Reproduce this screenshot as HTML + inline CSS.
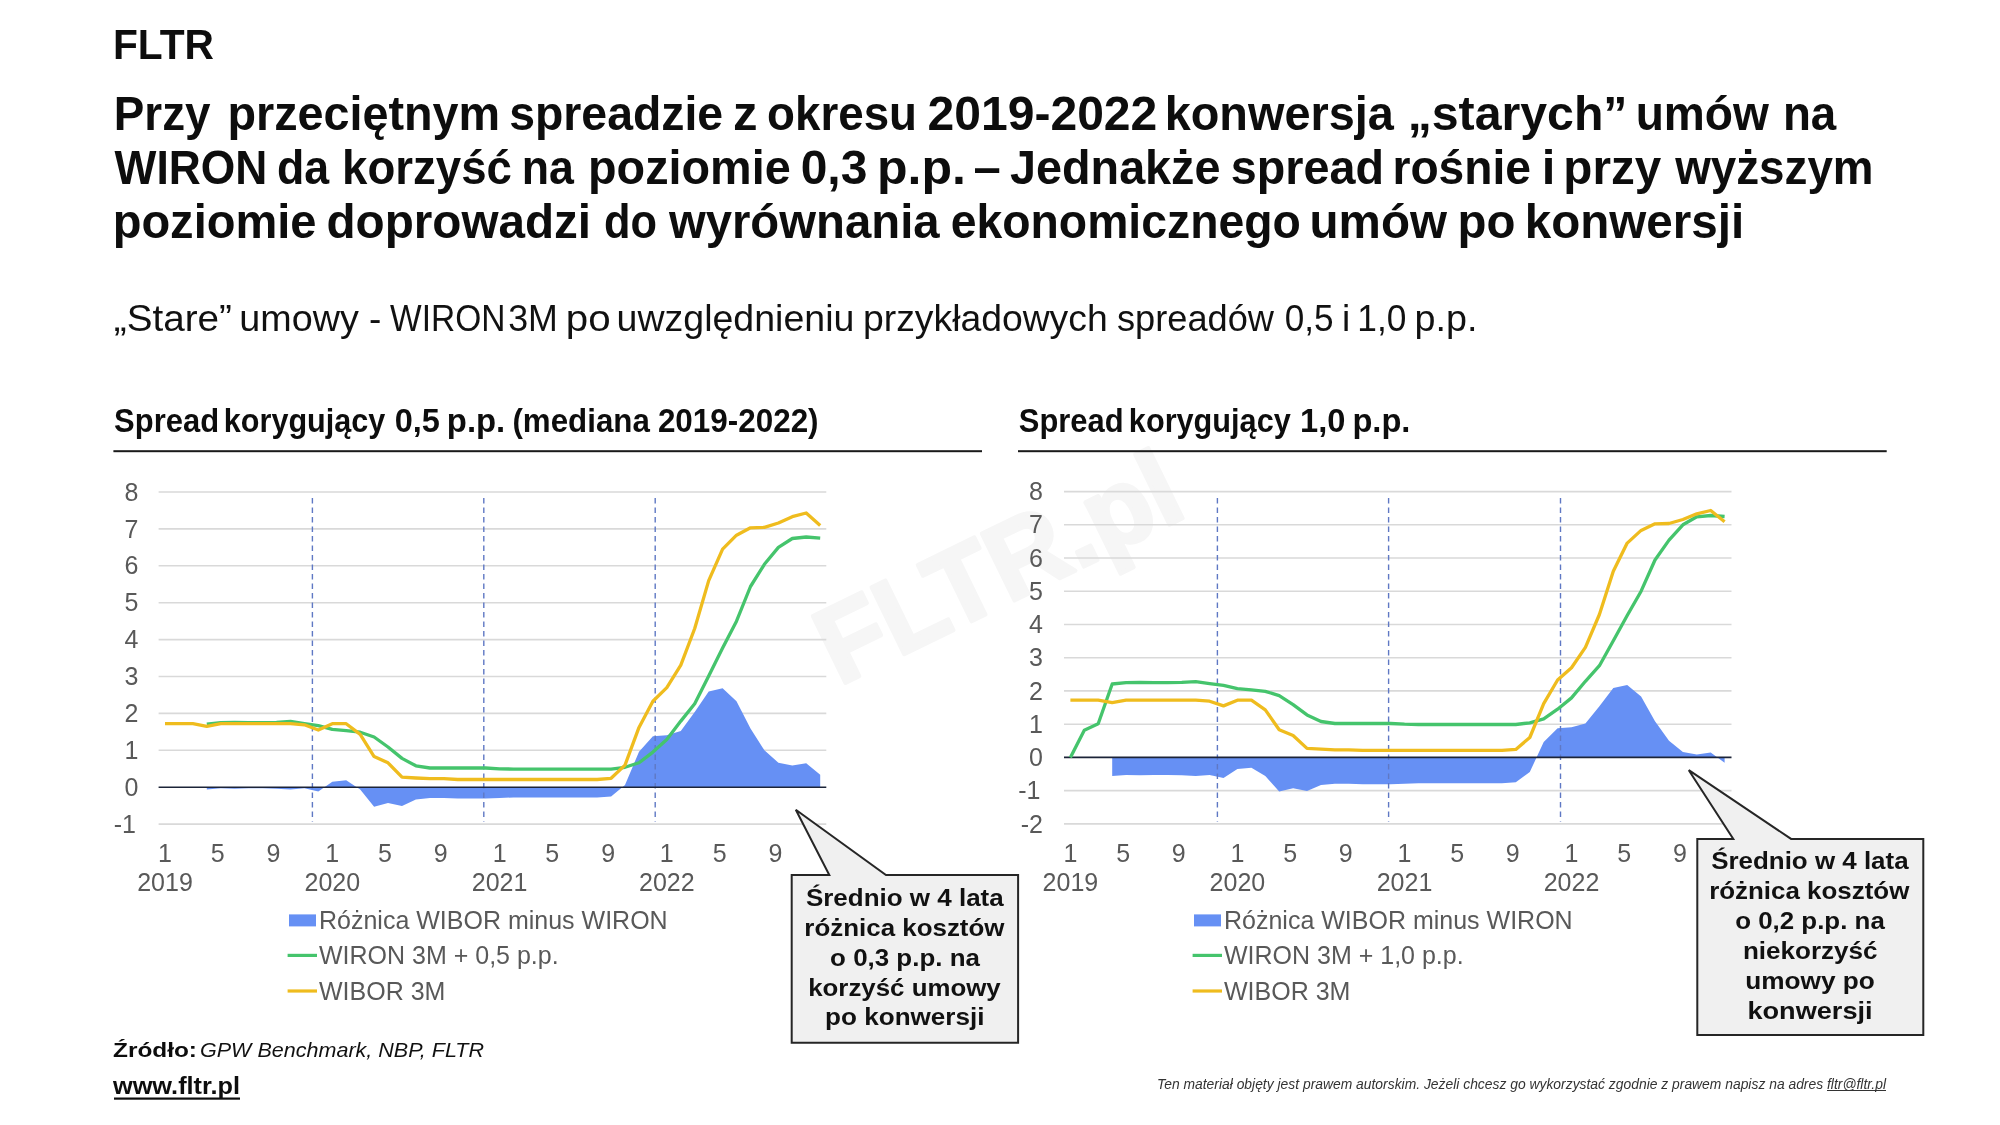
<!DOCTYPE html>
<html><head><meta charset="utf-8">
<style>
html,body{margin:0;padding:0;background:#fff;width:2000px;height:1125px;overflow:hidden}
svg{display:block;will-change:transform}
text{font-family:"Liberation Sans",sans-serif}
.ax{font-size:25px;fill:#595959}
.co{font-size:24.5px;font-weight:bold;fill:#111}
.b{font-weight:bold;fill:#0d0d0d}
.sub{fill:#111}
</style></head><body>
<svg width="2000" height="1125" viewBox="0 0 2000 1125">
<rect width="2000" height="1125" fill="#fff"/>
<text x="839" y="686" transform="rotate(-26 839 686)" font-size="108" font-weight="bold" fill="#f6f6f6" stroke="#f6f6f6" stroke-width="4" stroke-linejoin="round" textLength="390" lengthAdjust="spacingAndGlyphs">FLTR.pl</text>
<text id="t0" class="b" x="113" y="58.9" font-size="42" textLength="101" lengthAdjust="spacingAndGlyphs">FLTR</text>
<text class="b" x="113.84" y="130.2" font-size="49" textLength="96.71" lengthAdjust="spacingAndGlyphs">Przy</text>
<text class="b" x="227.42" y="130.2" font-size="49" textLength="272.68" lengthAdjust="spacingAndGlyphs">przeciętnym</text>
<text class="b" x="509.17" y="130.2" font-size="49" textLength="214.02" lengthAdjust="spacingAndGlyphs">spreadzie</text>
<text class="b" x="732.90" y="130.2" font-size="49">z</text>
<text class="b" x="767.11" y="130.2" font-size="49" textLength="149.90" lengthAdjust="spacingAndGlyphs">okresu</text>
<text class="b" x="927.58" y="130.2" font-size="49" textLength="229.74" lengthAdjust="spacingAndGlyphs">2019-2022</text>
<text class="b" x="1164.73" y="130.2" font-size="49" textLength="229.07" lengthAdjust="spacingAndGlyphs">konwersja</text>
<text class="b" x="1407.69" y="130.2" font-size="49" textLength="219.78" lengthAdjust="spacingAndGlyphs">„starych”</text>
<text class="b" x="1635.64" y="130.2" font-size="49" textLength="133.27" lengthAdjust="spacingAndGlyphs">umów</text>
<text class="b" x="1782.89" y="130.2" font-size="49" textLength="53.32" lengthAdjust="spacingAndGlyphs">na</text>
<text class="b" x="114.56" y="183.8" font-size="49" textLength="152.73" lengthAdjust="spacingAndGlyphs">WIRON</text>
<text class="b" x="277.07" y="183.8" font-size="49" textLength="52.15" lengthAdjust="spacingAndGlyphs">da</text>
<text class="b" x="342.12" y="183.8" font-size="49" textLength="169.82" lengthAdjust="spacingAndGlyphs">korzyść</text>
<text class="b" x="521.80" y="183.8" font-size="49" textLength="52.16" lengthAdjust="spacingAndGlyphs">na</text>
<text class="b" x="588.02" y="183.8" font-size="49" textLength="202.68" lengthAdjust="spacingAndGlyphs">poziomie</text>
<text class="b" x="800.70" y="183.8" font-size="49" textLength="66.63" lengthAdjust="spacingAndGlyphs">0,3</text>
<text class="b" x="876.95" y="183.8" font-size="49" textLength="88.89" lengthAdjust="spacingAndGlyphs">p.p.</text>
<text class="b" x="973.51" y="183.8" font-size="49">–</text>
<text class="b" x="1010.04" y="183.8" font-size="49" textLength="210.46" lengthAdjust="spacingAndGlyphs">Jednakże</text>
<text class="b" x="1230.76" y="183.8" font-size="49" textLength="153.22" lengthAdjust="spacingAndGlyphs">spread</text>
<text class="b" x="1392.46" y="183.8" font-size="49" textLength="138.52" lengthAdjust="spacingAndGlyphs">rośnie</text>
<text class="b" x="1541.72" y="183.8" font-size="49">i</text>
<text class="b" x="1563.36" y="183.8" font-size="49" textLength="97.89" lengthAdjust="spacingAndGlyphs">przy</text>
<text class="b" x="1675.13" y="183.8" font-size="49" textLength="198.45" lengthAdjust="spacingAndGlyphs">wyższym</text>
<text class="b" x="112.65" y="237.8" font-size="49" textLength="203.86" lengthAdjust="spacingAndGlyphs">poziomie</text>
<text class="b" x="326.45" y="237.8" font-size="49" textLength="264.68" lengthAdjust="spacingAndGlyphs">doprowadzi</text>
<text class="b" x="603.97" y="237.8" font-size="49" textLength="52.97" lengthAdjust="spacingAndGlyphs">do</text>
<text class="b" x="668.89" y="237.8" font-size="49" textLength="270.71" lengthAdjust="spacingAndGlyphs">wyrównania</text>
<text class="b" x="950.69" y="237.8" font-size="49" textLength="350.12" lengthAdjust="spacingAndGlyphs">ekonomicznego</text>
<text class="b" x="1309.55" y="237.8" font-size="49" textLength="137.46" lengthAdjust="spacingAndGlyphs">umów</text>
<text class="b" x="1457.48" y="237.8" font-size="49" textLength="57.87" lengthAdjust="spacingAndGlyphs">po</text>
<text class="b" x="1524.78" y="237.8" font-size="49" textLength="219.34" lengthAdjust="spacingAndGlyphs">konwersji</text>
<text class="sub" x="113.89" y="331" font-size="37" textLength="118.03" lengthAdjust="spacingAndGlyphs">„Stare”</text>
<text class="sub" x="239.30" y="331" font-size="37" textLength="119.52" lengthAdjust="spacingAndGlyphs">umowy</text>
<text class="sub" x="368.89" y="331" font-size="37">-</text>
<text class="sub" x="390.10" y="331" font-size="37" textLength="115.38" lengthAdjust="spacingAndGlyphs">WIRON</text>
<text class="sub" x="508.14" y="331" font-size="37" textLength="49.70" lengthAdjust="spacingAndGlyphs">3M</text>
<text class="sub" x="565.80" y="331" font-size="37" textLength="44.79" lengthAdjust="spacingAndGlyphs">po</text>
<text class="sub" x="616.56" y="331" font-size="37" textLength="237.83" lengthAdjust="spacingAndGlyphs">uwzględnieniu</text>
<text class="sub" x="863.00" y="331" font-size="37" textLength="244.68" lengthAdjust="spacingAndGlyphs">przykładowych</text>
<text class="sub" x="1116.99" y="331" font-size="37" textLength="156.92" lengthAdjust="spacingAndGlyphs">spreadów</text>
<text class="sub" x="1284.63" y="331" font-size="37" textLength="48.85" lengthAdjust="spacingAndGlyphs">0,5</text>
<text class="sub" x="1341.90" y="331" font-size="37">i</text>
<text class="sub" x="1357.31" y="331" font-size="37" textLength="49.07" lengthAdjust="spacingAndGlyphs">1,0</text>
<text class="sub" x="1414.57" y="331" font-size="37" textLength="62.87" lengthAdjust="spacingAndGlyphs">p.p.</text>
<text class="b" x="114.11" y="432.3" font-size="32.4" textLength="104.93" lengthAdjust="spacingAndGlyphs">Spread</text>
<text class="b" x="223.87" y="432.3" font-size="32.4" textLength="161.30" lengthAdjust="spacingAndGlyphs">korygujący</text>
<text class="b" x="394.71" y="432.3" font-size="32.4" textLength="45.19" lengthAdjust="spacingAndGlyphs">0,5</text>
<text class="b" x="446.83" y="432.3" font-size="32.4" textLength="58.43" lengthAdjust="spacingAndGlyphs">p.p.</text>
<text class="b" x="512.44" y="432.3" font-size="32.4" textLength="137.36" lengthAdjust="spacingAndGlyphs">(mediana</text>
<text class="b" x="657.91" y="432.3" font-size="32.4" textLength="160.65" lengthAdjust="spacingAndGlyphs">2019-2022)</text>
<text class="b" x="1018.81" y="432.3" font-size="32.4" textLength="104.73" lengthAdjust="spacingAndGlyphs">Spread</text>
<text class="b" x="1128.86" y="432.3" font-size="32.4" textLength="161.91" lengthAdjust="spacingAndGlyphs">korygujący</text>
<text class="b" x="1300.04" y="432.3" font-size="32.4" textLength="45.40" lengthAdjust="spacingAndGlyphs">1,0</text>
<text class="b" x="1352.45" y="432.3" font-size="32.4" textLength="58.00" lengthAdjust="spacingAndGlyphs">p.p.</text>
<rect x="113.4" y="450.2" width="868.6" height="2" fill="#1a1a1a"/>
<rect x="1018" y="450.2" width="868.7" height="2" fill="#1a1a1a"/>
<line x1="158.6" y1="824.1" x2="826.3" y2="824.1" stroke="#d9d9d9" stroke-width="1.6"/>
<line x1="158.6" y1="750.3" x2="826.3" y2="750.3" stroke="#d9d9d9" stroke-width="1.6"/>
<line x1="158.6" y1="713.4" x2="826.3" y2="713.4" stroke="#d9d9d9" stroke-width="1.6"/>
<line x1="158.6" y1="676.5" x2="826.3" y2="676.5" stroke="#d9d9d9" stroke-width="1.6"/>
<line x1="158.6" y1="639.6" x2="826.3" y2="639.6" stroke="#d9d9d9" stroke-width="1.6"/>
<line x1="158.6" y1="602.7" x2="826.3" y2="602.7" stroke="#d9d9d9" stroke-width="1.6"/>
<line x1="158.6" y1="565.8" x2="826.3" y2="565.8" stroke="#d9d9d9" stroke-width="1.6"/>
<line x1="158.6" y1="528.9" x2="826.3" y2="528.9" stroke="#d9d9d9" stroke-width="1.6"/>
<line x1="158.6" y1="492.0" x2="826.3" y2="492.0" stroke="#d9d9d9" stroke-width="1.6"/>
<polygon points="206.8,787.2 206.8,789.4 220.8,788.3 234.7,788.7 248.6,788.3 262.6,788.3 276.5,788.7 290.5,789.4 304.4,788.3 318.3,791.6 332.3,781.7 346.2,780.2 360.2,789.4 374.1,806.8 388.0,803.1 402.0,806.0 415.9,799.4 429.9,797.9 443.8,797.9 457.7,798.6 471.7,798.6 485.6,798.6 499.6,797.9 513.5,797.5 527.4,797.5 541.4,797.5 555.3,797.5 569.3,797.5 583.2,797.5 597.1,797.5 611.1,796.4 625.0,785.0 639.0,751.8 652.9,736.3 666.8,735.2 680.8,731.1 694.7,711.9 708.7,691.6 722.6,688.3 736.5,701.2 750.5,728.5 764.4,750.3 778.4,762.8 792.3,765.4 806.2,763.2 820.2,774.7 820.2,787.2" fill="#6690f4"/>
<line x1="312.4" y1="498" x2="312.4" y2="821.5" stroke="#5f78c4" stroke-width="1.4" stroke-dasharray="5.6,3.9"/>
<line x1="483.8" y1="498" x2="483.8" y2="821.5" stroke="#5f78c4" stroke-width="1.4" stroke-dasharray="5.6,3.9"/>
<line x1="655.2" y1="498" x2="655.2" y2="821.5" stroke="#5f78c4" stroke-width="1.4" stroke-dasharray="5.6,3.9"/>
<line x1="158.6" y1="787.2" x2="826.3" y2="787.2" stroke="#1c2438" stroke-width="1.6"/>
<polyline points="206.8,724.1 220.8,722.6 234.7,722.3 248.6,722.6 262.6,722.6 276.5,722.3 290.5,721.5 304.4,723.7 318.3,725.6 332.3,729.3 346.2,730.7 360.2,732.2 374.1,737.0 388.0,747.0 402.0,758.4 415.9,765.8 429.9,768.0 443.8,768.0 457.7,768.0 471.7,768.0 485.6,768.0 499.6,768.8 513.5,769.1 527.4,769.1 541.4,769.1 555.3,769.1 569.3,769.1 583.2,769.1 597.1,769.1 611.1,769.1 625.0,767.3 639.0,762.8 652.9,752.1 666.8,739.6 680.8,721.1 694.7,703.8 708.7,676.1 722.6,648.1 736.5,621.2 750.5,586.5 764.4,564.3 778.4,547.4 792.3,538.5 806.2,537.0 820.2,538.1" fill="none" stroke="#45c46c" stroke-width="3.3" stroke-linejoin="round"/>
<polyline points="165.0,723.7 178.9,723.7 192.9,723.7 206.8,726.3 220.8,723.7 234.7,723.7 248.6,723.7 262.6,723.7 276.5,723.7 290.5,723.7 304.4,724.8 318.3,730.0 332.3,723.7 346.2,723.7 360.2,734.4 374.1,756.6 388.0,762.8 402.0,777.2 415.9,778.0 429.9,778.7 443.8,778.7 457.7,779.5 471.7,779.5 485.6,779.5 499.6,779.5 513.5,779.5 527.4,779.5 541.4,779.5 555.3,779.5 569.3,779.5 583.2,779.5 597.1,779.5 611.1,778.3 625.0,765.1 639.0,727.4 652.9,701.2 666.8,687.6 680.8,665.1 694.7,628.5 708.7,580.6 722.6,549.2 736.5,535.2 750.5,527.8 764.4,527.4 778.4,523.0 792.3,516.7 806.2,513.0 820.2,525.6" fill="none" stroke="#efbc1e" stroke-width="3.3" stroke-linejoin="round"/>
<text x="136.0" y="832.7" text-anchor="end" class="ax">-1</text>
<text x="138.5" y="795.8" text-anchor="end" class="ax">0</text>
<text x="138.5" y="758.9" text-anchor="end" class="ax">1</text>
<text x="138.5" y="722.0" text-anchor="end" class="ax">2</text>
<text x="138.5" y="685.1" text-anchor="end" class="ax">3</text>
<text x="138.5" y="648.2" text-anchor="end" class="ax">4</text>
<text x="138.5" y="611.3" text-anchor="end" class="ax">5</text>
<text x="138.5" y="574.4" text-anchor="end" class="ax">6</text>
<text x="138.5" y="537.5" text-anchor="end" class="ax">7</text>
<text x="138.5" y="500.6" text-anchor="end" class="ax">8</text>
<text x="165.0" y="861.5" text-anchor="middle" class="ax">1</text>
<text x="165.0" y="890.5" text-anchor="middle" class="ax">2019</text>
<text x="217.8" y="861.5" text-anchor="middle" class="ax">5</text>
<text x="273.5" y="861.5" text-anchor="middle" class="ax">9</text>
<text x="332.3" y="861.5" text-anchor="middle" class="ax">1</text>
<text x="332.3" y="890.5" text-anchor="middle" class="ax">2020</text>
<text x="385.0" y="861.5" text-anchor="middle" class="ax">5</text>
<text x="440.8" y="861.5" text-anchor="middle" class="ax">9</text>
<text x="499.6" y="861.5" text-anchor="middle" class="ax">1</text>
<text x="499.6" y="890.5" text-anchor="middle" class="ax">2021</text>
<text x="552.3" y="861.5" text-anchor="middle" class="ax">5</text>
<text x="608.1" y="861.5" text-anchor="middle" class="ax">9</text>
<text x="666.8" y="861.5" text-anchor="middle" class="ax">1</text>
<text x="666.8" y="890.5" text-anchor="middle" class="ax">2022</text>
<text x="719.6" y="861.5" text-anchor="middle" class="ax">5</text>
<text x="775.4" y="861.5" text-anchor="middle" class="ax">9</text>
<line x1="1064" y1="823.9" x2="1731.5" y2="823.9" stroke="#d9d9d9" stroke-width="1.6"/>
<line x1="1064" y1="790.6" x2="1731.5" y2="790.6" stroke="#d9d9d9" stroke-width="1.6"/>
<line x1="1064" y1="724.2" x2="1731.5" y2="724.2" stroke="#d9d9d9" stroke-width="1.6"/>
<line x1="1064" y1="690.9" x2="1731.5" y2="690.9" stroke="#d9d9d9" stroke-width="1.6"/>
<line x1="1064" y1="657.7" x2="1731.5" y2="657.7" stroke="#d9d9d9" stroke-width="1.6"/>
<line x1="1064" y1="624.5" x2="1731.5" y2="624.5" stroke="#d9d9d9" stroke-width="1.6"/>
<line x1="1064" y1="591.2" x2="1731.5" y2="591.2" stroke="#d9d9d9" stroke-width="1.6"/>
<line x1="1064" y1="558.0" x2="1731.5" y2="558.0" stroke="#d9d9d9" stroke-width="1.6"/>
<line x1="1064" y1="524.8" x2="1731.5" y2="524.8" stroke="#d9d9d9" stroke-width="1.6"/>
<line x1="1064" y1="491.6" x2="1731.5" y2="491.6" stroke="#d9d9d9" stroke-width="1.6"/>
<polygon points="1112.2,757.4 1112.2,776.0 1126.1,775.0 1140.0,775.3 1153.9,775.0 1167.8,775.0 1181.8,775.3 1195.7,776.0 1209.6,775.0 1223.5,778.0 1237.4,769.0 1251.4,767.7 1265.3,776.0 1279.2,791.6 1293.1,788.3 1307.0,791.0 1321.0,785.0 1334.9,783.7 1348.8,783.7 1362.7,784.3 1376.6,784.3 1390.6,784.3 1404.5,783.7 1418.4,783.3 1432.3,783.3 1446.2,783.3 1460.2,783.3 1474.1,783.3 1488.0,783.3 1501.9,783.3 1515.8,782.3 1529.8,772.0 1543.7,742.1 1557.6,728.2 1571.5,727.2 1585.4,723.5 1599.4,706.2 1613.3,687.9 1627.2,685.0 1641.1,696.6 1655.0,721.2 1669.0,740.8 1682.9,752.1 1696.8,754.4 1710.7,752.4 1724.6,762.7 1724.6,757.4" fill="#6690f4"/>
<line x1="1217.4" y1="498" x2="1217.4" y2="821.5" stroke="#5f78c4" stroke-width="1.4" stroke-dasharray="5.6,3.9"/>
<line x1="1388.6" y1="498" x2="1388.6" y2="821.5" stroke="#5f78c4" stroke-width="1.4" stroke-dasharray="5.6,3.9"/>
<line x1="1560.5" y1="498" x2="1560.5" y2="821.5" stroke="#5f78c4" stroke-width="1.4" stroke-dasharray="5.6,3.9"/>
<line x1="1064" y1="757.4" x2="1731.5" y2="757.4" stroke="#1c2438" stroke-width="1.6"/>
<polyline points="1070.4,757.4 1084.3,730.2 1098.2,723.8 1112.2,684.0 1126.1,682.6 1140.0,682.3 1153.9,682.6 1167.8,682.6 1181.8,682.3 1195.7,681.6 1209.6,683.6 1223.5,685.3 1237.4,688.6 1251.4,689.9 1265.3,691.3 1279.2,695.6 1293.1,704.6 1307.0,714.9 1321.0,721.5 1334.9,723.5 1348.8,723.5 1362.7,723.5 1376.6,723.5 1390.6,723.5 1404.5,724.2 1418.4,724.5 1432.3,724.5 1446.2,724.5 1460.2,724.5 1474.1,724.5 1488.0,724.5 1501.9,724.5 1515.8,724.5 1529.8,722.8 1543.7,718.9 1557.6,709.2 1571.5,697.9 1585.4,681.3 1599.4,665.7 1613.3,640.8 1627.2,615.5 1641.1,591.2 1655.0,560.0 1669.0,540.1 1682.9,524.8 1696.8,516.8 1710.7,515.5 1724.6,516.5" fill="none" stroke="#45c46c" stroke-width="3.3" stroke-linejoin="round"/>
<polyline points="1070.4,700.2 1084.3,700.2 1098.2,700.2 1112.2,702.6 1126.1,700.2 1140.0,700.2 1153.9,700.2 1167.8,700.2 1181.8,700.2 1195.7,700.2 1209.6,701.2 1223.5,705.9 1237.4,700.2 1251.4,700.2 1265.3,709.9 1279.2,729.8 1293.1,735.5 1307.0,748.4 1321.0,749.1 1334.9,749.8 1348.8,749.8 1362.7,750.4 1376.6,750.4 1390.6,750.4 1404.5,750.4 1418.4,750.4 1432.3,750.4 1446.2,750.4 1460.2,750.4 1474.1,750.4 1488.0,750.4 1501.9,750.4 1515.8,749.4 1529.8,737.5 1543.7,703.6 1557.6,680.0 1571.5,667.7 1585.4,647.4 1599.4,614.5 1613.3,571.3 1627.2,543.1 1641.1,530.4 1655.0,523.8 1669.0,523.5 1682.9,519.5 1696.8,513.8 1710.7,510.5 1724.6,521.8" fill="none" stroke="#efbc1e" stroke-width="3.3" stroke-linejoin="round"/>
<text x="1043" y="832.5" text-anchor="end" class="ax">-2</text>
<text x="1040.5" y="799.2" text-anchor="end" class="ax">-1</text>
<text x="1043" y="766.0" text-anchor="end" class="ax">0</text>
<text x="1043" y="732.8" text-anchor="end" class="ax">1</text>
<text x="1043" y="699.5" text-anchor="end" class="ax">2</text>
<text x="1043" y="666.3" text-anchor="end" class="ax">3</text>
<text x="1043" y="633.1" text-anchor="end" class="ax">4</text>
<text x="1043" y="599.9" text-anchor="end" class="ax">5</text>
<text x="1043" y="566.6" text-anchor="end" class="ax">6</text>
<text x="1043" y="533.4" text-anchor="end" class="ax">7</text>
<text x="1043" y="500.2" text-anchor="end" class="ax">8</text>
<text x="1070.4" y="861.5" text-anchor="middle" class="ax">1</text>
<text x="1070.4" y="890.5" text-anchor="middle" class="ax">2019</text>
<text x="1123.1" y="861.5" text-anchor="middle" class="ax">5</text>
<text x="1178.8" y="861.5" text-anchor="middle" class="ax">9</text>
<text x="1237.4" y="861.5" text-anchor="middle" class="ax">1</text>
<text x="1237.4" y="890.5" text-anchor="middle" class="ax">2020</text>
<text x="1290.1" y="861.5" text-anchor="middle" class="ax">5</text>
<text x="1345.8" y="861.5" text-anchor="middle" class="ax">9</text>
<text x="1404.5" y="861.5" text-anchor="middle" class="ax">1</text>
<text x="1404.5" y="890.5" text-anchor="middle" class="ax">2021</text>
<text x="1457.2" y="861.5" text-anchor="middle" class="ax">5</text>
<text x="1512.8" y="861.5" text-anchor="middle" class="ax">9</text>
<text x="1571.5" y="861.5" text-anchor="middle" class="ax">1</text>
<text x="1571.5" y="890.5" text-anchor="middle" class="ax">2022</text>
<text x="1624.2" y="861.5" text-anchor="middle" class="ax">5</text>
<text x="1679.9" y="861.5" text-anchor="middle" class="ax">9</text>
<rect x="289" y="914.4" width="27" height="12" fill="#6690f4"/>
<text x="319" y="928.5" class="ax">Różnica WIBOR minus WIRON</text>
<line x1="287.6" y1="955.4" x2="317" y2="955.4" stroke="#45c46c" stroke-width="3.2"/>
<text x="319" y="963.5" class="ax">WIRON 3M + 0,5 p.p.</text>
<line x1="287.6" y1="991" x2="317" y2="991" stroke="#efbc1e" stroke-width="3.2"/>
<text x="319" y="999.5" class="ax">WIBOR 3M</text>
<rect x="1194" y="914.4" width="27" height="12" fill="#6690f4"/>
<text x="1224" y="928.5" class="ax">Różnica WIBOR minus WIRON</text>
<line x1="1192.6" y1="955.4" x2="1222" y2="955.4" stroke="#45c46c" stroke-width="3.2"/>
<text x="1224" y="963.5" class="ax">WIRON 3M + 1,0 p.p.</text>
<line x1="1192.6" y1="991" x2="1222" y2="991" stroke="#efbc1e" stroke-width="3.2"/>
<text x="1224" y="999.5" class="ax">WIBOR 3M</text>
<path d="M791.7,875.1 L829.3,875.1 L795.8,809.7 L886,875.1 L1018.1,875.1 L1018.1,1042.7 L791.7,1042.7 Z" fill="#f0f0f0" stroke="#262626" stroke-width="2"/>
<text x="805.9" y="906.3" class="co" textLength="197.8" lengthAdjust="spacingAndGlyphs">Średnio w 4 lata</text>
<text x="804.3" y="936.0" class="co" textLength="200.2" lengthAdjust="spacingAndGlyphs">różnica kosztów</text>
<text x="830.1" y="965.8" class="co" textLength="149.8" lengthAdjust="spacingAndGlyphs">o 0,3 p.p. na</text>
<text x="808.2" y="995.5" class="co" textLength="192.5" lengthAdjust="spacingAndGlyphs">korzyść umowy</text>
<text x="825.1" y="1025.3" class="co" textLength="159.4" lengthAdjust="spacingAndGlyphs">po konwersji</text>
<path d="M1697.3,838.9 L1733.3,838.9 L1688.8,770.2 L1791.1,838.9 L1923.3,838.9 L1923.3,1035.1 L1697.3,1035.1 Z" fill="#f0f0f0" stroke="#262626" stroke-width="2"/>
<text x="1711.2" y="868.9" class="co" textLength="197.4" lengthAdjust="spacingAndGlyphs">Średnio w 4 lata</text>
<text x="1709.2" y="898.9" class="co" textLength="200.1" lengthAdjust="spacingAndGlyphs">różnica kosztów</text>
<text x="1735.2" y="928.9" class="co" textLength="149.6" lengthAdjust="spacingAndGlyphs">o 0,2 p.p. na</text>
<text x="1742.9" y="958.9" class="co" textLength="134.6" lengthAdjust="spacingAndGlyphs">niekorzyść</text>
<text x="1745.2" y="988.9" class="co" textLength="129.6" lengthAdjust="spacingAndGlyphs">umowy po</text>
<text x="1747.4" y="1018.9" class="co" textLength="125.2" lengthAdjust="spacingAndGlyphs">konwersji</text>
<text id="t7" class="b" x="113" y="1056.6" font-size="21" textLength="84" lengthAdjust="spacingAndGlyphs">Źródło:</text>
<text id="t8" x="200" y="1056.6" font-size="21" font-style="italic" fill="#111" textLength="284" lengthAdjust="spacingAndGlyphs">GPW Benchmark, NBP, FLTR</text>
<text id="t9" class="b" x="113" y="1094" font-size="24" textLength="127" lengthAdjust="spacingAndGlyphs">www.fltr.pl</text>
<rect x="114" y="1097.5" width="126" height="2.2" fill="#0d0d0d"/>
<text id="t10" x="1157" y="1088.5" font-size="14" font-style="italic" fill="#333" textLength="729" lengthAdjust="spacingAndGlyphs">Ten materiał objęty jest prawem autorskim. Jeżeli chcesz go wykorzystać zgodnie z prawem napisz na adres fltr@fltr.pl</text>
<rect x="1827" y="1090" width="59" height="1" fill="#333"/>
</svg>
</body></html>
